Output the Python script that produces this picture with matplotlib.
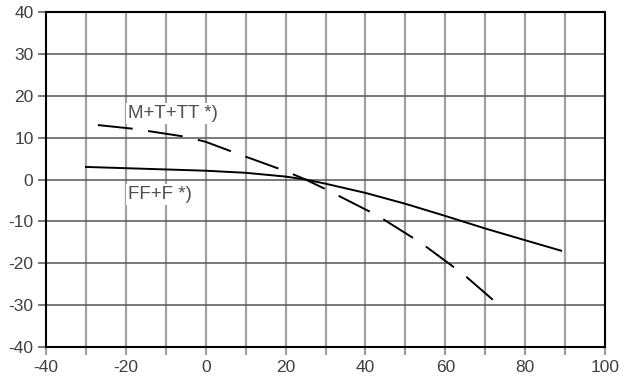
import matplotlib
matplotlib.use("Agg")
import matplotlib.pyplot as plt

# solid curve (FF+F)
x_ff = [-30, -20, -10, 0, 10, 20, 25, 30, 40, 50, 60, 70, 80, 89]
y_ff = [3.0, 2.7, 2.4, 2.1, 1.6, 0.7, 0.0, -1.0, -3.2, -5.8, -8.7, -11.7, -14.5, -17.0]

# dashed curve (M+T+TT)
x_mt = [-27, -18, -5, 0, 7, 20, 25, 30, 43, 54, 64.5, 72]
y_mt = [13.0, 12.1, 10.2, 9.0, 6.5, 2.0, 0.0, -2.3, -8.6, -15.2, -22.6, -28.8]

xticks = [-40, -20, 0, 20, 40, 60, 80, 100]
yticks = [-40, -30, -20, -10, 0, 10, 20, 30, 40]

plt.rcParams["font.family"] = ["Liberation Sans", "DejaVu Sans"]
plt.rcParams["axes.unicode_minus"] = False

fig = plt.figure(figsize=(6.3, 3.9), dpi=100)
ax = fig.add_axes([46 / 630, 43 / 390, 559 / 630, 335 / 390])

ax.set_xlim(-40, 100)
ax.set_ylim(-40, 40)

for gx in range(-30, 100, 10):
    ax.axvline(gx, color="#a0a0a0", lw=1.6, zorder=1)
for gy in range(-30, 40, 10):
    ax.axhline(gy, color="#555555", lw=1.1, zorder=1)

ax.plot(x_ff, y_ff, color="black", lw=1.4, zorder=3)
ax.plot(x_mt, y_mt, color="black", lw=1.4, dashes=(18, 8), zorder=3)

box = dict(facecolor="white", edgecolor="none", pad=1.5)
ax.text(-19.5, 15.8, "M+T+TT *)", fontsize=13.5, color="#505050",
        va="center", ha="left", bbox=box, zorder=2)
ax.text(-19.5, -3.6, "FF+F *)", fontsize=13.5, color="#505050",
        va="center", ha="left", bbox=box, zorder=2)

ax.set_xticks(range(-40, 101, 10))
ax.set_xticklabels([str(v) if v in xticks else "" for v in range(-40, 101, 10)])
ax.set_yticks(yticks)
ax.tick_params(axis="both", direction="out", length=6, width=1.4,
               labelsize=12.5, labelcolor="#404040", pad=3)
ax.tick_params(axis="x", color="#a0a0a0", width=1.6)
ax.tick_params(axis="y", color="#555555", width=1.1)

for s in ax.spines.values():
    s.set_linewidth(1.5)
    s.set_color("black")
    s.set_zorder(4)

fig.savefig("out.png", dpi=100)
